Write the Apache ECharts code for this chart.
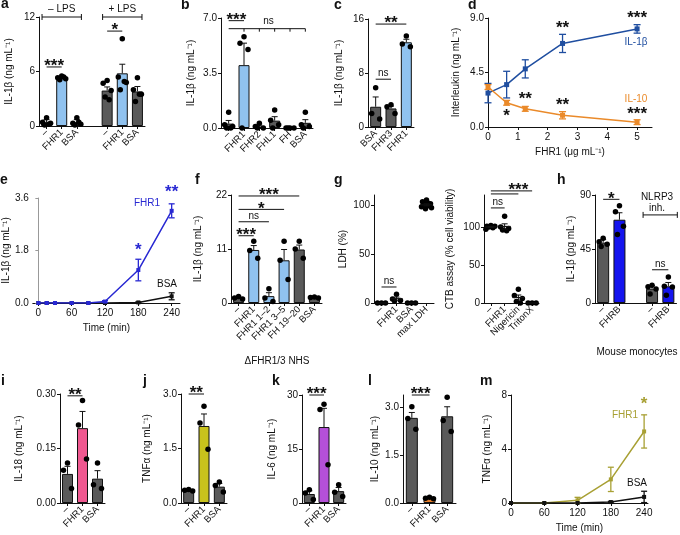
<!DOCTYPE html>
<html><head><meta charset="utf-8">
<script src="https://cdn.jsdelivr.net/npm/echarts@6/dist/echarts.min.js"></script>
<style>html,body{margin:0;padding:0;background:#fff}#c{width:680px;height:535px}</style>
</head><body><div id="c"></div>
<script>
// ---------------- DATA ----------------
// a
const A_CATS = ['–','FHR1','BSA','','–','FHR1','BSA'];
const A_MEAN = [0.4,5.3,0.4,null,3.9,5.8,3.8];
const A_SEM  = [0.3,0.15,0.3,null,0.4,1.0,0.55];
const A_DOTS = [[0.9,0.4,0.3,0.1,0.2],[5.5,5.3,5.2,5.1,5.4],[0.9,0.3,0.2,0.1,0.4],[],[5.0,4.7,3.9,3.2,2.9],[9.6,5.4,4.8,4.0,4.9],[5.3,4.0,3.5,2.7,3.5]];
const A_TICKS = [0,6,12];
// b
const B_CATS = ['–','FHR1','FHR2','FHL1','FH','BSA'];
const B_MEAN = [0.28,4.0,0.1,0.47,0.0,0.33];
const B_SEM  = [0.2,1.4,0.08,0.25,0,0.2];
const B_DOTS = [[1.0,0.2,0.1,0,0],[5.8,5.4,5.0,0.0],[0.3,0.1,0,0],[1.15,0.5,0.2,0],[0,0,0,0],[1.0,0.2,0.1,0]];
const B_TICKS = [0,3.5,7];
// c
const C_CATS = ['BSA','FHR3','FHR1'];
const C_MEAN = [3.0,2.75,12.55];
const C_SEM  = [1.45,0.35,0.45];
const C_DOTS = [[5.8,2.0,1.2],[3.3,3.0,2.0],[13.5,12.3,11.9]];
const C_TICKS = [0,8,16];
// d
const D_X = [0,0.625,1.25,2.5,5];
const D_IL1B = [2.8,3.5,4.8,6.9,8.1];
const D_IL1B_SEM = [0.8,1.1,0.75,0.75,0.35];
const D_IL10 = [3.3,2.0,1.5,0.97,0.4];
const D_IL10_SEM = [0.2,0.2,0.2,0.3,0.2];
const D_XTICKS = [0,1,2,3,4,5];
const D_YTICKS = [0,4.5,9];
// e
const E_T = [0,15,30,60,90,120,180,240];
const E_FHR1 = [0,0,0,0,0,0.05,1.13,3.16];
const E_FHR1_SEM = [0,0,0,0,0,0.03,0.37,0.24];
const E_BSA = [0,0,0,0,0,0,0.02,0.23];
const E_BSA_SEM = [0,0,0,0,0,0,0.02,0.12];
const E_XTICKS = [0,60,120,180,240];
const E_YTICKS = [0,1.8,3.6];
// f
const F_CATS = ['–','FHR1','FHR1 1–2','FHR1 3–5','FH 19–20','BSA'];
const F_MEAN = [1.0,10.8,1.4,8.7,10.9,1.1];
const F_SEM  = [0.15,0.9,0.7,2.2,0.9,0.1];
const F_DOTS = [[1.3,1.0,0.8],[12.6,10.7,9.1],[2.9,1.0,0.3],[12.6,8.7,4.8],[12.6,11.0,9.1],[1.2,1.1,1.0]];
const F_TICKS = [0,11,22];
// g (left)
const G1_CATS = ['–','FHR1','BSA','max LDH'];
const G1_MEAN = [0,4.4,0,100];
const G1_SEM  = [0,1.6,0,1];
const G1_DOTS = [[0,0,0],[9,4,2.5,2],[0,0,0],[105,103,101,100,99,98,97,96,102]];
const G1_TICKS = [0,50,100];
// g (right)
const G2_CATS = ['–','FHR1','Nigericin','TritonX'];
const G2_MEAN = [100,100.6,7.2,0];
const G2_SEM  = [0.8,3.5,3.3,0];
const G2_DOTS = [[102,101,101,100,99,97],[114,100,98,96,95],[18,10,6,2,0],[0,0,0]];
const G2_TICKS = [0,50,100];
// h
const H_CATS = ['–','FHRB','','–','FHRB'];
const H_MEAN = [50.3,69.4,null,11.9,13.9];
const H_SEM  = [2.5,5.8,null,2.5,3.2];
const H_DOTS = [[54,51,49,47],[81,76,64,57],[],[14.7,13.5,11.6,7.5],[21.6,14,13.3,6.5]];
const H_TICKS = [0,45,90];
// i
const I_CATS = ['–','FHR1','BSA'];
const I_MEAN = [0.08,0.206,0.067];
const I_SEM  = [0.021,0.046,0.022];
const I_DOTS = [[0.11,0.09,0.04],[0.282,0.215,0.121],[0.11,0.05,0.04]];
const I_TICKS = [0,0.15,0.30];
// j
const J_CATS = ['–','FHR1','BSA'];
const J_MEAN = [0.35,2.12,0.45];
const J_SEM  = [0.02,0.33,0.09];
const J_DOTS = [[0.37,0.35,0.33],[2.66,2.2,1.48],[0.58,0.48,0.3]];
const J_TICKS = [0,1.5,3];
// k
const K_CATS = ['–','FHR1','BSA'];
const K_MEAN = [2.5,21.1,3.3];
const K_SEM  = [0.9,5.2,1.0];
const K_DOTS = [[3.7,2.8,1.0],[27.4,26.0,10.6],[5.1,3.0,1.8]];
const K_TICKS = [0,15,30];
// l
const L_CATS = ['–','FHR1','BSA'];
const L_MEAN = [2.68,0.157,2.73];
const L_SEM  = [0.17,0.03,0.3];
const L_DOTS = [[3.03,2.66,2.32],[0.18,0.15,0.13],[3.33,2.6,2.25]];
const L_TICKS = [0,1.5,3];
// m
const M_T = [0,60,120,180,240];
const M_FHR1 = [0,0,0.2,1.75,5.3];
const M_FHR1_SEM = [0,0,0.22,0.9,1.23];
const M_BSA = [0,0,0,0.07,0.45];
const M_BSA_SEM = [0,0,0,0.05,0.42];
const M_XTICKS = [0,60,120,180,240];
const M_YTICKS = [0,4,8];

// ---------------- STYLE ----------------
const FONT = '"Liberation Sans", Arial, Helvetica, sans-serif';
const INK = '#111';
const GRAY = '#5a5a5a';
const LBLUE = '#90c2ef';
const C_D_BLUE = '#1f4ea0';
const C_D_ORANGE = '#ea8a2a';
const C_E_BLUE = '#2828d2';
const C_H_BLUE = '#1414ee';
const C_PINK = '#ef5890';
const C_OLIVE_J = '#c8c21c';
const C_PURPLE = '#b450d8';
const C_ORANGE_L = '#e47d2b';
const C_OLIVE_M = '#a8a034';
const JIT = [0,-4,4,-2,2,-5,5,-1,1];
const STAR_FONT = 'bold 17px ' + FONT;
const TXT_FONT = '10px ' + FONT;

const grids = [], xAxes = [], yAxes = [], series = [], graphics = [];

function addGrid(r){ grids.push({left:r[0], top:r[1], width:r[2], height:r[3]}); return grids.length-1; }

function yAx(gi, max, ticks, dec, name, gap, color){
  yAxes.push({type:'value', gridIndex:gi, min:0, max:max, name:name, nameLocation:'middle', nameGap:gap, nameRotate:90,
    nameTextStyle:{fontSize:10, color:INK, fontFamily:FONT},
    axisLine:{show:true, lineStyle:{color:color||INK, width:1}},
    axisTick:{show:true, length:3, lineStyle:{color:color||INK}, customValues:ticks},
    axisLabel:{fontSize:10, color:INK, fontFamily:FONT, margin:4, customValues:ticks, formatter:v=>Number(v).toFixed(dec)},
    splitLine:{show:false}});
}
function catX(gi, cats){
  xAxes.push({type:'category', gridIndex:gi, data:cats, boundaryGap:true,
    axisLine:{show:true, lineStyle:{color:INK, width:1}},
    axisTick:{show:true, alignWithLabel:true, length:3, lineStyle:{color:INK}, interval:(i,v)=>v!==''},
    axisLabel:{rotate:45, fontSize:9.5, color:INK, fontFamily:FONT, margin:5, interval:0}});
}
function valX(gi, min, max, ticks, name, gap){
  xAxes.push({type:'value', gridIndex:gi, min:min, max:max, name:name, nameLocation:'middle', nameGap:gap,
    nameTextStyle:{fontSize:10, color:INK, fontFamily:FONT},
    axisLine:{show:true, onZero:false, lineStyle:{color:INK, width:1}},
    axisTick:{show:true, length:3, lineStyle:{color:INK}, customValues:ticks},
    axisLabel:{fontSize:10, color:INK, fontFamily:FONT, margin:5, customValues:ticks},
    splitLine:{show:false}});
}
function ln(x1,y1,x2,y2,c,w){ return {type:'line', shape:{x1,y1,x2,y2}, style:{stroke:c||INK, lineWidth:w||1}}; }
function tx(x,y,t,font,c,va){ return {type:'text', x:x, y:y, style:{text:t, font:font, fill:c||INK, textAlign:'center', align:'center', textVerticalAlign:va||'bottom', verticalAlign:va||'bottom'}}; }

function bars(gi, mean, colors, bw){
  series.push({type:'bar', xAxisIndex:gi, yAxisIndex:gi, barWidth:bw||11, silent:true, z:2,
    data: mean.map((m,i)=> m==null ? '-' : {value:m, itemStyle:{color:colors[i], borderColor:INK, borderWidth:1}})});
}
function upErr(gi, mean, sem){
  const d=[]; mean.forEach((m,i)=>{ if(m!=null && sem[i]>0) d.push([i, m, m+sem[i]]); });
  series.push({type:'custom', xAxisIndex:gi, yAxisIndex:gi, z:3, silent:true, data:d,
    renderItem:(p,api)=>{ const a=api.coord([api.value(0),api.value(1)]), b=api.coord([api.value(0),api.value(2)]);
      return {type:'group', children:[ln(a[0],a[1],b[0],b[1]), ln(b[0]-3,b[1],b[0]+3,b[1])]}; }});
}
function dots(gi, arr, size){
  const d=[]; arr.forEach((vs,i)=>vs.forEach((v,j)=>d.push({value:[i,v], symbolOffset:[JIT[j%JIT.length],0]})));
  series.push({type:'scatter', xAxisIndex:gi, yAxisIndex:gi, z:4, silent:true, symbolSize:size||5.5, itemStyle:{color:'#000', opacity:1}, data:d});
}
function meanErr(gi, mean, sem, hw){
  series.push({type:'custom', xAxisIndex:gi, yAxisIndex:gi, z:5, silent:true, data:mean.map((m,i)=>[i,m,sem[i]]),
    renderItem:(p,api)=>{ const i=api.value(0), m=api.value(1), s=api.value(2);
      const c=api.coord([i,m]), hi=api.coord([i,m+s]), lo=api.coord([i,m-s]);
      const ch=[ln(c[0]-hw,c[1],c[0]+hw,c[1],INK,1.2)];
      if(s>0){ ch.push(ln(c[0],lo[1],c[0],hi[1]), ln(c[0]-3,hi[1],c[0]+3,hi[1]), ln(c[0]-3,lo[1],c[0]+3,lo[1])); }
      return {type:'group', children:ch}; }});
}
function lineS(gi, xs, ys, color, sym, size, z){
  series.push({type:'line', xAxisIndex:gi, yAxisIndex:gi, z:z||4, silent:true, data:xs.map((x,i)=>[x,ys[i]]),
    symbol:sym, symbolSize:size, showSymbol:true, lineStyle:{color:color, width:1.5}, itemStyle:{color:color}});
}
function bothErr(gi, xs, ys, es, color, cap, z){
  const d=[]; xs.forEach((x,i)=>{ if(es[i]>0) d.push([x, ys[i]-es[i], ys[i]+es[i]]); });
  series.push({type:'custom', xAxisIndex:gi, yAxisIndex:gi, z:z||4, silent:true, data:d,
    renderItem:(p,api)=>{ const lo=api.coord([api.value(0),api.value(1)]), hi=api.coord([api.value(0),api.value(2)]);
      return {type:'group', children:[ln(lo[0],lo[1],hi[0],hi[1],color,1.3), ln(lo[0]-cap,lo[1],lo[0]+cap,lo[1],color,1.3), ln(hi[0]-cap,hi[1],hi[0]+cap,hi[1],color,1.3)]}; }});
}
// annotations (significance brackets / stars) placed in data coordinates
function ann(gi, items){
  series.push({type:'custom', xAxisIndex:gi, yAxisIndex:gi, z:6, silent:true, clip:false, data:items.map(it=>[0,it.y]),
    renderItem:(p,api)=>{
      const it=items[p.dataIndex];
      const a=api.coord([0,it.y]), b=api.coord([1,it.y]);
      const X=t=>a[0]+(b[0]-a[0])*t; const y=a[1]; const col=it.c||INK; const ch=[];
      let mx = it.x;
      if(it.x2!=null){
        ch.push(ln(X(it.x1),y,X(it.x2),y,col));
        if(it.caps){ ch.push(ln(X(it.x1),y-3,X(it.x1),y+3,col), ln(X(it.x2),y-3,X(it.x2),y+3,col)); }
        if(it.ticks){ it.ticks.forEach(t=>ch.push(ln(X(t),y,X(t),y+3,col))); }
        if(mx==null) mx=(it.x1+it.x2)/2;
      }
      if(it.t){
        const star = it.t.indexOf('*')>=0;
        const dy = it.dy!=null ? it.dy : (star ? 8 : -1);
        ch.push(tx(X(mx), y+dy, it.t, star?STAR_FONT:TXT_FONT, col));
      }
      return {type:'group', children:ch};
    }});
}
function T(x,y,t,opt){ graphics.push({type:'text', x:x, y:y, silent:true, style:Object.assign({text:t, fill:INK, font:TXT_FONT, textAlign:'center', align:'center', textVerticalAlign:'middle', verticalAlign:'middle'}, opt||{})}); }

const IL1B = 'IL-1β (ng mL\u207B\u00B9)';

// ---- a ----
let g = addGrid([39,17,106,109]);
catX(g, A_CATS); yAx(g, 12, A_TICKS, 0, IL1B, 25);
bars(g, A_MEAN, [GRAY,LBLUE,GRAY,GRAY,GRAY,LBLUE,GRAY]); upErr(g, A_MEAN, A_SEM); dots(g, A_DOTS);
ann(g, [{x1:-0.3,x2:2.3,y:12,caps:true,t:'– LPS',dy:-3},{x1:3.7,x2:6.3,y:12,caps:true,t:'+ LPS',dy:-3},
        {x1:0,x2:1,y:6.5,t:'***'},{x1:4,x2:5,y:10.45,t:'*'}]);
// ---- b ----
g = addGrid([221,18,92,110]);
catX(g, B_CATS); yAx(g, 7, B_TICKS, 1, IL1B, 25);
bars(g, B_MEAN, [GRAY,LBLUE,GRAY,GRAY,GRAY,GRAY]); upErr(g, B_MEAN, B_SEM); dots(g, B_DOTS);
ann(g, [{x1:0,x2:1,y:6.83,t:'***'},{x1:0,x2:5,y:6.32,ticks:[1,2,3,4,5],t:'ns',x:2.6,dy:-2}]);
// ---- c ----
g = addGrid([368,19,46,108]);
catX(g, C_CATS); yAx(g, 16, C_TICKS, 0, IL1B, 24);
bars(g, C_MEAN, [GRAY,GRAY,LBLUE]); upErr(g, C_MEAN, C_SEM); dots(g, C_DOTS);
ann(g, [{x1:0,x2:2,y:15.25,t:'**'},{x1:0,x2:1,y:7.08,t:'ns'}]);
// ---- d ----
g = addGrid([488,18,164,109]);
valX(g, 0, 5.5, D_XTICKS, 'FHR1 (μg mL\u207B\u00B9)', 20); yAx(g, 9, D_YTICKS, 1, 'Interleukin (ng mL\u207B\u00B9)', 27);
lineS(g, D_X, D_IL1B, C_D_BLUE, 'rect', 5); bothErr(g, D_X, D_IL1B, D_IL1B_SEM, C_D_BLUE, 3.5);
lineS(g, D_X, D_IL10, C_D_ORANGE, 'rect', 5); bothErr(g, D_X, D_IL10, D_IL10_SEM, C_D_ORANGE, 3.5);
ann(g, [{x:2.5,y:8.26,t:'**'},{x:5,y:9.08,t:'***'},{x:1.25,y:2.4,t:'**'},{x:0.625,y:1.0,t:'*'},{x:2.5,y:1.9,t:'**'},{x:5,y:1.16,t:'***'}].map(o=>Object.assign(o,{dy:10})));
T(636,42,'IL-1β',{fill:C_D_BLUE}); T(636,99,'IL-10',{fill:C_D_ORANGE});
// ---- e ----
g = addGrid([32,198,148,105]);
valX(g, -10, 255, E_XTICKS, 'Time (min)', 20); yAx(g, 3.6, E_YTICKS, 1, IL1B, 21, '#999');
lineS(g, E_T, E_BSA, INK, 'rect', 4, 4); bothErr(g, E_T, E_BSA, E_BSA_SEM, INK, 3);
lineS(g, E_T, E_FHR1, C_E_BLUE, 'rect', 4, 5); bothErr(g, E_T, E_FHR1, E_FHR1_SEM, C_E_BLUE, 3, 5);
ann(g, [{x:180,y:1.85,t:'*',c:C_E_BLUE,dy:10},{x:240,y:3.84,t:'**',c:C_E_BLUE,dy:10}]);
T(147,203,'FHR1',{fill:C_E_BLUE}); T(167,284,'BSA');
// ---- f ----
g = addGrid([231,195,91,108]);
catX(g, F_CATS); yAx(g, 22, F_TICKS, 0, IL1B, 28);
bars(g, F_MEAN, [GRAY,LBLUE,LBLUE,LBLUE,GRAY,GRAY]); upErr(g, F_MEAN, F_SEM); dots(g, F_DOTS);
ann(g, [{x1:0,x2:4,y:21.8,t:'***'},{x1:0,x2:3,y:19.07,t:'*'},{x1:0,x2:2,y:16.55,t:'ns'},{x1:0,x2:1,y:13.7,t:'***'}]);
T(277,361,'ΔFHR1/3 NHS');
// ---- g left ----
g = addGrid([374,195,60,108]);
catX(g, G1_CATS); yAx(g, 110, G1_TICKS, 0, 'LDH (%)', 26);
dots(g, G1_DOTS); meanErr(g, G1_MEAN, G1_SEM, 6);
ann(g, [{x1:0,x2:1,y:16.3,t:'ns'}]);
// ---- g right ----
g = addGrid([484,195,55,108]);
catX(g, G2_CATS); yAx(g, 142, G2_TICKS, 0, 'CTB assay (% cell viability)', 29);
dots(g, G2_DOTS); meanErr(g, G2_MEAN, G2_SEM, 6);
ann(g, [{x1:0,x2:1,y:125,t:'ns'},{x1:0,x2:3,y:147.4,t:'***',x:2},{x1:0,x2:2,y:143.4}]);
// ---- h ----
g = addGrid([595,195,81.5,108]);
catX(g, H_CATS); yAx(g, 90, H_TICKS, 0, 'IL-1β (pg mL\u207B\u00B9)', 18);
bars(g, H_MEAN, [GRAY,C_H_BLUE,GRAY,GRAY,C_H_BLUE], 12); upErr(g, H_MEAN, H_SEM); dots(g, H_DOTS);
ann(g, [{x1:0,x2:1,y:86.4,t:'*'},{x1:3,x2:4,y:27.7,t:'ns'},{x1:2.45,x2:4.55,y:73.4,caps:true}]);
T(657,197,'NLRP3'); T(657,208,'inh.');
T(637,352,'Mouse monocytes');
// ---- i ----
g = addGrid([60,394,45,109]);
catX(g, I_CATS); yAx(g, 0.3, I_TICKS, 2, 'IL-18 (ng mL\u207B\u00B9)', 36);
bars(g, I_MEAN, [GRAY,C_PINK,GRAY]); upErr(g, I_MEAN, I_SEM); dots(g, I_DOTS);
ann(g, [{x1:0,x2:1,y:0.295,t:'**'}]);
// ---- j ----
g = addGrid([181,394,46,109]);
catX(g, J_CATS); yAx(g, 3, J_TICKS, 1, 'TNFα (ng mL\u207B\u00B9)', 29);
bars(g, J_MEAN, [GRAY,C_OLIVE_J,GRAY]); upErr(g, J_MEAN, J_SEM); dots(g, J_DOTS);
ann(g, [{x1:0,x2:1,y:3.0,t:'**'}]);
// ---- k ----
g = addGrid([302,395,44,108]);
catX(g, K_CATS); yAx(g, 30, K_TICKS, 0, 'IL-6 (ng mL\u207B\u00B9)', 25);
bars(g, K_MEAN, [GRAY,C_PURPLE,GRAY]); upErr(g, K_MEAN, K_SEM); dots(g, K_DOTS);
ann(g, [{x1:0,x2:1,y:30,t:'***'}]);
// ---- l ----
g = addGrid([403,395,53,108]);
catX(g, L_CATS); yAx(g, 3.4, L_TICKS, 1, 'IL-10 (ng mL\u207B\u00B9)', 23);
bars(g, L_MEAN, [GRAY,C_ORANGE_L,GRAY], 12); upErr(g, L_MEAN, L_SEM); dots(g, L_DOTS);
ann(g, [{x1:0,x2:1,y:3.4,t:'***'}]);
// ---- m ----
g = addGrid([511,395,137,108]);
valX(g, 0, 247, M_XTICKS, 'Time (min)', 20); yAx(g, 8, M_YTICKS, 0, 'TNFα (ng mL\u207B\u00B9)', 19);
lineS(g, M_T, M_FHR1, C_OLIVE_M, 'rect', 4, 4); bothErr(g, M_T, M_FHR1, M_FHR1_SEM, C_OLIVE_M, 3);
lineS(g, M_T, M_BSA, INK, 'rect', 4, 5); bothErr(g, M_T, M_BSA, M_BSA_SEM, INK, 3, 5);
ann(g, [{x:240,y:7.4,t:'*',c:C_OLIVE_M,dy:10}]);
T(625,415,'FHR1',{fill:C_OLIVE_M}); T(637,483,'BSA');

// panel letters
const LET = [['a',1,11],['b',181,12],['c',334,12],['d',468,12],['e',0,187],['f',195,187],['g',334,187],['h',557,187],['i',1,388],['j',143,388],['k',272,388],['l',368,388],['m',480,388]];
LET.forEach(l=>T(l[1],l[2],l[0],{font:'bold 14px '+FONT, textAlign:'left', align:'left', textVerticalAlign:'bottom', verticalAlign:'bottom'}));

const chart = echarts.init(document.getElementById('c'), null, {renderer:'canvas'});
chart.setOption({animation:false, backgroundColor:'#fff', textStyle:{fontFamily:FONT}, grid:grids, xAxis:xAxes, yAxis:yAxes, series:series, graphic:{elements:graphics}});
</script></body></html>
